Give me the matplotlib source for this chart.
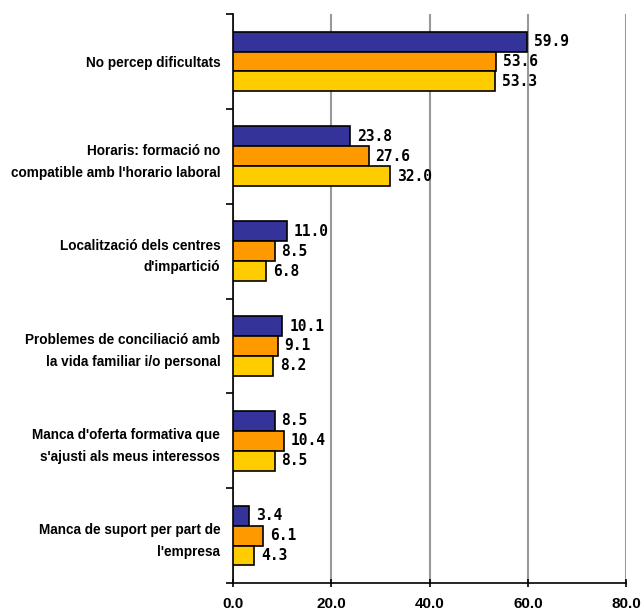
import numpy as np
import matplotlib.pyplot as plt

# Categories (top to bottom) and the three series
categories = [
    "No percep dificultats",
    "Horaris: formació no\ncompatible amb l'horario laboral",
    "Localització dels centres\nd'impartició",
    "Problemes de conciliació amb\nla vida familiar i/o personal",
    "Manca d'oferta formativa que\ns'ajusti als meus interessos",
    "Manca de suport per part de\nl'empresa",
]
serie_1 = [59.9, 23.8, 11.0, 10.1, 8.5, 3.4]
serie_2 = [53.6, 27.6, 8.5, 9.1, 10.4, 6.1]
serie_3 = [53.3, 32.0, 6.8, 8.2, 8.5, 4.3]
colors = ["#333399", "#FF9900", "#FFCC00"]
x_ticks = [0, 20, 40, 60, 80]

plt.rcParams['font.family'] = ['Liberation Sans', 'DejaVu Sans']

fig = plt.figure(figsize=(6.43, 6.14), dpi=100)
ax = fig.add_axes([0.362, 0.0505, 0.612, 0.9265])

n = len(categories)
centers = np.arange(n)
bar_h = 0.21
offsets = [-bar_h, 0, bar_h]

for series, color, off in zip([serie_1, serie_2, serie_3], colors, offsets):
    ax.barh(centers + off, series, height=bar_h, color=color,
            edgecolor='black', linewidth=1.2, zorder=3)
    for y, v in zip(centers + off, series):
        ax.annotate(f"{v:.1f}", (v, y), xytext=(5, 0), textcoords='offset points',
                    va='center', ha='left', fontsize=10.5, fontweight='bold',
                    family='DejaVu Sans Mono', zorder=4)

ax.set_ylim(n - 0.5, -0.5)
ax.set_xlim(0, 80)

# category labels at centers, boundary ticks as minor ticks
ax.set_yticks(centers)
ax.set_yticklabels(categories, fontsize=9.8, fontweight='bold', linespacing=1.7)
ax.tick_params(axis='y', which='major', length=0, pad=9)
ax.set_yticks(np.arange(n + 1) - 0.5, minor=True)
ax.tick_params(axis='y', which='minor', length=5, width=1.2, direction='out')

ax.set_xticks(x_ticks)
ax.set_xticklabels([f"{t:.1f}" for t in x_ticks], fontsize=11, fontweight='bold')
ax.tick_params(axis='x', length=6, width=1.2, direction='inout', pad=7)

ax.xaxis.grid(True, color='#999999', linewidth=1.5, zorder=0)
ax.set_axisbelow(True)
for s in ['top', 'right']:
    ax.spines[s].set_visible(False)
for s in ['left', 'bottom']:
    ax.spines[s].set_linewidth(1.2)

fig.savefig("out.png", dpi=100)
